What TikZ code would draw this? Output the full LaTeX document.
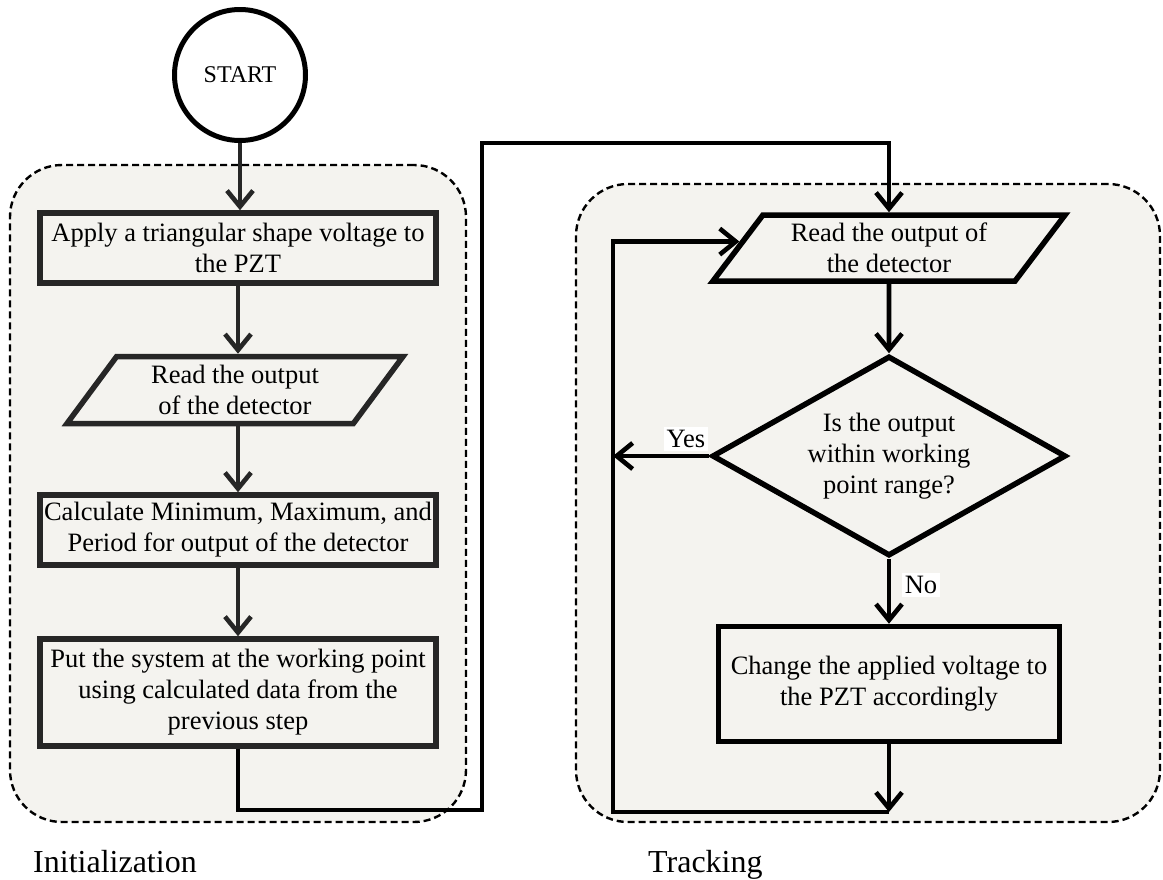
\documentclass[tikz,border=0pt]{standalone}
\usepackage{fontspec}
\setmainfont{Liberation Serif}
\usetikzlibrary{shapes.geometric,arrows.meta,calc}
\definecolor{panelfill}{RGB}{244,243,239}
\definecolor{leftink}{RGB}{38,38,38}
\newcommand\flowfont{\fontsize{26.5}{31}\selectfont}
\newcommand\startfont{\fontsize{24}{28}\selectfont}
\newcommand\groupfont{\fontsize{32}{38}\selectfont}
\begin{document}
\begin{tikzpicture}[x=1pt,y=-1pt,
  panel/.style={draw, dash pattern=on 7pt off 4pt, line width=2.4pt, rounded corners=52pt, fill=panelfill, inner sep=0pt, rectangle},
  procbox/.style={draw, rectangle, line width=5.5pt, align=center, font=\flowfont, inner sep=2pt},
  iobox/.style={draw, trapezium, trapezium left angle=45, trapezium right angle=135, trapezium stretches body, line width=5.5pt, align=center, font=\flowfont, inner sep=0pt},
  decbox/.style={draw, diamond, aspect=1.76, line width=5.5pt, align=center, font=\flowfont, inner sep=0pt},
  arr/.style={line width=4.6pt, -{Straight Barb[length=16pt, width=26pt]}},
  lbl/.style={font=\flowfont, fill=white, inner sep=3pt},
  grouplbl/.style={font=\groupfont, anchor=base west, inner sep=0pt}
]
\useasboundingbox (0,0) rectangle (1163,879);

% panels
\node[panel, minimum width=456pt, minimum height=657pt] (initpanel) at (238,493.5) {};
\node[panel, minimum width=584pt, minimum height=638pt] (trackpanel) at (868,503) {};

% left column
\node[draw, circle, line width=5pt, minimum size=131pt, font=\startfont, inner sep=0pt] (start) at (240,75) {START};
\node[procbox, draw=leftink, minimum width=396pt, minimum height=70pt] (b1) at (238,248) {Apply a triangular shape voltage to\\the PZT};
\node[iobox, draw=leftink, minimum width=336pt, minimum height=67pt] (p1) at (235,390) {Read the output\\of the detector};
\node[procbox, draw=leftink, minimum width=396pt, minimum height=70pt] (b3) at (238,530) {Calculate Minimum, Maximum, and\\Period for output of the detector};
\node[procbox, draw=leftink, minimum width=396pt, minimum height=107pt] (b4) at (238,692.5) {Put the system at the working point\\using calculated data from the\\previous step};

% right column
\node[iobox, minimum width=352pt, minimum height=66pt] (p2) at (889,248) {Read the output of\\the detector};
\node[decbox, minimum width=354pt, minimum height=200pt] (dec) at (889,456) {Is the output\\within working\\point range?};
\node[procbox, minimum width=341pt, minimum height=115pt] (b5) at (889,684) {Change the applied voltage to\\the PZT accordingly};

% labels
\node[lbl] (yeslbl) at (686,439) {Yes};
\node[lbl] (nolbl) at (921,585) {No};
\node[grouplbl] (initlbl) at (33,872) {Initialization};
\node[grouplbl] (tracklbl) at (648,872) {Tracking};

% helper coordinates
\coordinate (jA) at (482,810);
\coordinate (jB) at (482,143);
\coordinate (loopbot) at (613,812);
\coordinate (p2in) at ($(p2.bottom left corner)!0.59!(p2.top left corner)$);

% connectors left
\draw[arr, leftink] (start.south) -- (start.south |- b1.north);
\draw[arr, leftink] (b1.south) -- (b1.south |- p1.north);
\draw[arr, leftink] (b1.south |- p1.south) -- (b1.south |- b3.north);
\draw[arr, leftink] (b3.south) -- (b4.north);
\draw[arr] (b4.south) |- (jA) -- (jB) -| (p2.north);

% connectors right
\draw[arr] (p2.south) -- (dec.north);
\draw[arr] (dec.south) -- (b5.north);
\draw[arr] (dec.west) -- (dec.west -| loopbot);
\draw[arr] (b5.south) -- (b5.south |- loopbot);
\draw[arr] (b5.south |- loopbot) -- (loopbot) -- (loopbot |- p2in) -- (p2in);
\end{tikzpicture}
\end{document}
